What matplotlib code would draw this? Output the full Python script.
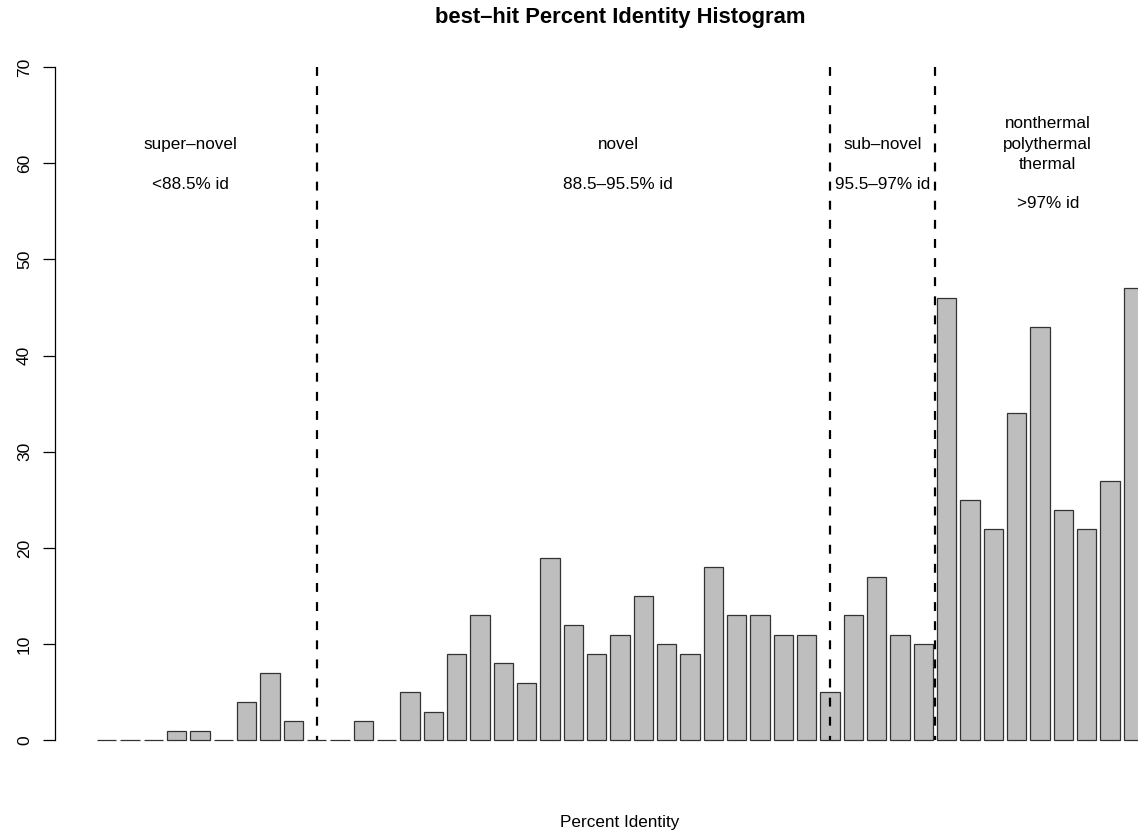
import numpy as np
import matplotlib
matplotlib.use("Agg")
import matplotlib.pyplot as plt

# best-hit percent identity counts, one bar per bin (left to right)
counts = [0, 0, 0, 1, 1, 0, 4, 7, 2, 0,
          0, 2, 0, 5, 3, 9, 13, 8, 6, 19,
          12, 9, 11, 15, 10, 9, 18, 13, 13, 11,
          11, 5, 13, 17, 11, 10, 46, 25, 22, 34,
          43, 24, 22, 27, 47]
region_names = ["super–novel", "novel", "sub–novel",
                "nonthermal\npolythermal\nthermal"]
region_ids = ["<88.5% id", "88.5–95.5% id", "95.5–97% id", ">97% id"]
y_ticks = [0, 10, 20, 30, 40, 50, 60, 70]

plt.rcParams['font.family'] = ['Liberation Sans', 'DejaVu Sans']

fig = plt.figure(figsize=(11.38, 8.33), dpi=100)
# plot region runs past the right edge of the picture, like the original
ax = fig.add_axes([0.04833, 0.0788, 0.99288, 0.873])

# R barplot layout: width 1, space 0.2
n = len(counts)
lefts = 0.2 + 1.2 * np.arange(n)
ax.bar(lefts, counts, width=1.0, align='edge', color='#bebebe',
       edgecolor='#333333', linewidth=0.9)

# region boundaries
for xc in [11.5, 37.9, 43.3]:
    ax.plot([xc, xc], [70, 0], color='black', linewidth=1.6,
            linestyle=(0, (4, 4.6)))

# region labels
name_x = [5.0, 27.0, 40.6, 49.1]
for i in range(4):
    ax.text(name_x[i], 62, region_names[i], ha='center', va='center',
            fontsize=12.3, linespacing=1.42)
id_y = [57.8, 57.8, 57.8, 55.8]
for i in range(4):
    ax.text(name_x[i], id_y[i], region_ids[i], ha='center', va='center',
            fontsize=12.3)

ax.set_xlim(-1.952, 56.152)
ax.set_ylim(-2.8, 72.8)

for s in ['top', 'right', 'bottom']:
    ax.spines[s].set_visible(False)
ax.spines['left'].set_bounds(0, 70)
ax.spines['left'].set_linewidth(0.9)
ax.set_xticks([])
ax.set_yticks(y_ticks)
ax.tick_params(axis='y', length=8.6, width=0.9, pad=8, labelsize=12.5,
               labelrotation=90)
for lab in ax.get_yticklabels():
    lab.set_va('center')

fig.text(0.5448, 1 - 18 / 833, "best–hit Percent Identity Histogram",
         ha='center', va='center', fontsize=15.8, fontweight='bold')
fig.text(0.5448, 1 - 822 / 833, "Percent Identity", ha='center',
         va='center', fontsize=12.3)

fig.savefig("out.png", dpi=100)
